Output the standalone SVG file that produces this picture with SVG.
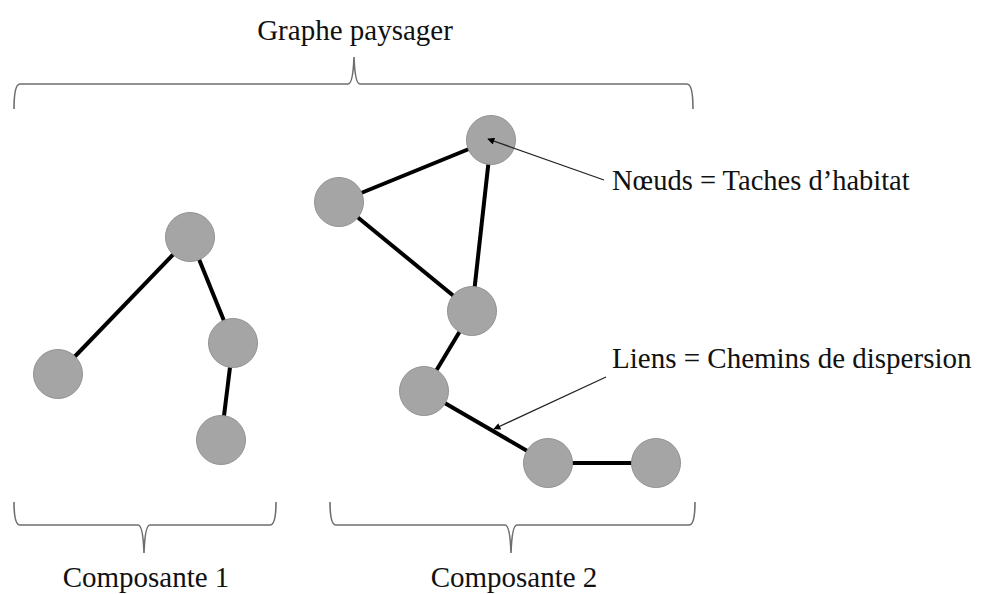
<svg xmlns="http://www.w3.org/2000/svg" width="981" height="594" viewBox="0 0 981 594">
<defs>
<style>
.brace{fill:none;stroke:#6e6e6e;stroke-width:1.6}
.edge{stroke:#000;stroke-width:4;stroke-linecap:butt}
.node{fill:#a5a5a5;stroke:#939393;stroke-width:1}
.lbl{font-family:"Liberation Serif","Times New Roman",serif;font-size:29px;fill:#111}
.ptr{stroke:#222;stroke-width:1.3;fill:none}
</style>
<marker id="ah" viewBox="0 0 10 10" refX="9" refY="5" markerWidth="9" markerHeight="7" markerUnits="userSpaceOnUse" orient="auto">
<path d="M0,0 L10,5 L0,10 z" fill="#000"/>
</marker>
</defs>
<rect width="981" height="594" fill="#fff"/>
<g id="braces">
<path class="brace" d="M14,109 Q14,84 20,84 L348,84 Q353,84 354,57 Q355,84 360,84 L687,84 Q693,84 693,109"/>
<path class="brace" d="M14,502 Q14,525 20,525 L138,525 Q143,525 144,553 Q145,525 150,525 L270,525 Q276,525 276,502"/>
<path class="brace" d="M330,502 Q330,525 336,525 L505,525 Q510,525 511,553 Q512,525 517,525 L689,525 Q695,525 695,502"/>
</g>
<g id="connectors">
<line class="edge" x1="190" y1="237" x2="58" y2="374"/>
<line class="edge" x1="190" y1="237" x2="233" y2="343"/>
<line class="edge" x1="233" y1="343" x2="221" y2="440"/>
<line class="edge" x1="491" y1="140" x2="339" y2="202"/>
<line class="edge" x1="491" y1="140" x2="472" y2="311"/>
<line class="edge" x1="339" y1="202" x2="472" y2="311"/>
<line class="edge" x1="472" y1="311" x2="424" y2="391"/>
<line class="edge" x1="424" y1="391" x2="548" y2="463"/>
<line class="edge" x1="548" y1="463" x2="656" y2="463"/>
</g>
<g id="n1"><circle class="node" cx="190" cy="237" r="24.5"/></g>
<g id="n2"><circle class="node" cx="233" cy="343" r="24.5"/></g>
<g id="n3"><circle class="node" cx="58" cy="374" r="24.5"/></g>
<g id="n4"><circle class="node" cx="221" cy="440" r="24.5"/></g>
<g id="n5"><circle class="node" cx="491" cy="140" r="24.5"/></g>
<g id="n6"><circle class="node" cx="339" cy="202" r="24.5"/></g>
<g id="n7"><circle class="node" cx="472" cy="311" r="24.5"/></g>
<g id="n8"><circle class="node" cx="424" cy="391" r="24.5"/></g>
<g id="n9"><circle class="node" cx="548" cy="463" r="24.5"/></g>
<g id="n10"><circle class="node" cx="656" cy="463" r="24.5"/></g>
<g id="pointers">
<line class="ptr" x1="604" y1="180" x2="488" y2="139" marker-end="url(#ah)"/>
<line class="ptr" x1="606" y1="377" x2="494" y2="429" marker-end="url(#ah)"/>
</g>
<g id="labels">
<text class="lbl" x="355" y="40" text-anchor="middle">Graphe paysager</text>
<text class="lbl" x="612" y="190" style="font-size:28.5px">Nœuds = Taches d’habitat</text>
<text class="lbl" x="612" y="368">Liens = Chemins de dispersion</text>
<text class="lbl" x="146" y="587" text-anchor="middle">Composante 1</text>
<text class="lbl" x="514" y="587" text-anchor="middle">Composante 2</text>
</g>
</svg>
